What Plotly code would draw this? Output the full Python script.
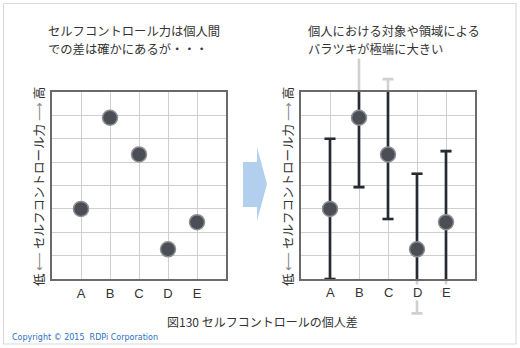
import plotly.graph_objects as go

categories = ["A", "B", "C", "D", "E"]
positions = [1, 2, 3, 4, 5]
left_values = [3.0, 6.9, 5.33, 1.27, 2.43]
right_values = [3.0, 6.9, 5.33, 1.27, 2.43]
right_upper = [6.0, 9.93, 8.55, 4.5, 5.47]
right_lower = [0.0, 3.93, 2.57, -1.47, -0.52]

title_left = ["セルフコントロール力は個人間", "での差は確かにあるが・・・"]
title_right = ["個人における対象や領域による", "バラツキが極端に大きい"]
ytitle = "低 <span style='color:#8a8a8a'>⟵</span> セルフコントロール力 <span style='color:#8a8a8a'>⟶</span> 高"
caption = "図130 セルフコントロールの個人差"
copyright_text = "Copyright © 2015  RDPi Corporation"

W, H = 520, 348
FONT = "Noto Sans CJK JP, sans-serif"
LATIN = "Liberation Sans, Arial, sans-serif"

def px_x(x):
    return x / W

def px_y(y):
    return 1 - y / H

# plot-area geometry (pixels)
PLOT_TOP, PLOT_BOTTOM = 92, 279
YMIN, YMAX = 0, 8
PPU = (PLOT_BOTTOM - PLOT_TOP) / (YMAX - YMIN)
EXT_TOP, EXT_BOTTOM = 12, 336  # extended area for the faint bar parts

err_plus = [u - v for u, v in zip(right_upper, right_values)]
err_minus = [v - l for v, l in zip(right_values, right_lower)]

fig = go.Figure()

marker_style = dict(size=15, color="#4b4e54", line=dict(color="#8d8f93", width=1.5))

# left plot points
fig.add_trace(go.Scatter(x=positions, y=left_values, mode="markers", marker=marker_style,
                         xaxis="x", yaxis="y", cliponaxis=False, showlegend=False))

# right plot: light gray full-range bars on an invisible, taller subplot (drawn first)
fig.add_trace(go.Scatter(x=positions, y=right_values, mode="markers",
                         marker=dict(size=1, color="rgba(0,0,0,0)"),
                         error_y=dict(type="data", array=err_plus, arrayminus=err_minus,
                                      color="#d0d0d0", thickness=2.6, width=5.5),
                         xaxis="x2", yaxis="y2", showlegend=False, hoverinfo="skip"))
# right plot: dark bars (clipped to the framed plot area)
fig.add_trace(go.Scatter(x=positions, y=right_values, mode="markers",
                         marker=dict(size=1, color="rgba(0,0,0,0)"),
                         error_y=dict(type="data", array=err_plus, arrayminus=err_minus,
                                      color="#262a33", thickness=2.6, width=5.5),
                         xaxis="x3", yaxis="y3", cliponaxis=True, showlegend=False))
# right plot points
fig.add_trace(go.Scatter(x=positions, y=right_values, mode="markers", marker=marker_style,
                         xaxis="x3", yaxis="y3", cliponaxis=False, showlegend=False))

ydom = [px_y(PLOT_BOTTOM), px_y(PLOT_TOP)]
ext_dom = [px_y(EXT_BOTTOM), px_y(EXT_TOP)]
ext_range = [YMIN - (EXT_BOTTOM - PLOT_BOTTOM) / PPU, YMAX + (PLOT_TOP - EXT_TOP) / PPU]
right_dom = [px_x(301), px_x(475)]

axis_common = dict(showline=True, mirror=True, linecolor="#6a6a6a", linewidth=1.8,
                   showgrid=True, gridcolor="#cfcfcf", gridwidth=1.4, zeroline=False,
                   ticks="", fixedrange=True)
hidden = dict(showline=False, showgrid=False, zeroline=False, showticklabels=False,
              ticks="", fixedrange=True)

fig.update_layout(
    width=W, height=H, margin=dict(l=0, r=0, t=0, b=0),
    paper_bgcolor="white", plot_bgcolor="rgba(0,0,0,0)",
    font=dict(family=FONT, color="#333333", size=12),
    xaxis=dict(domain=[px_x(52), px_x(226)], range=[0, 6], tickvals=positions,
               ticktext=categories, ticklabelstandoff=1,
               tickfont=dict(family=LATIN, size=13, color="#333"),
               **axis_common),
    yaxis=dict(domain=ydom, range=[YMIN, YMAX], dtick=1, showticklabels=False, **axis_common),
    xaxis2=dict(domain=right_dom, range=[0, 6], anchor="y2", **hidden),
    yaxis2=dict(domain=ext_dom, range=ext_range, anchor="x2", **hidden),
    xaxis3=dict(domain=right_dom, range=[0, 6], tickvals=positions,
                ticktext=categories, showticklabels=False, anchor="y3", **axis_common),
    yaxis3=dict(domain=ydom, range=[YMIN, YMAX], dtick=1, showticklabels=False, anchor="x3",
                **axis_common),
)

annotations = []
# right plot category labels with white background (they mask the faint bar parts)
for p, c in zip(positions, categories):
    annotations.append(dict(x=p, y=px_y(292), xref="x3", yref="paper", text=c, showarrow=False,
                            font=dict(family=LATIN, size=13, color="#333"),
                            bgcolor="white", borderpad=0, xanchor="center", yanchor="middle"))
for i, (tl, tr) in enumerate(zip(title_left, title_right)):
    yy = px_y(31 + 18.2 * i)
    annotations.append(dict(x=px_x(46), y=yy, xref="paper", yref="paper", text=tl,
                            showarrow=False, xanchor="left", yanchor="middle",
                            font=dict(size=12.3, color="#333")))
    annotations.append(dict(x=px_x(307), y=yy, xref="paper", yref="paper", text=tr,
                            showarrow=False, xanchor="left", yanchor="middle",
                            font=dict(size=12.3, color="#333"), bgcolor="white", borderpad=0))
annotations += [
    dict(x=px_x(38), y=px_y(187), xref="paper", yref="paper", text=ytitle, showarrow=False,
         textangle=-90, xanchor="center", yanchor="middle", font=dict(size=12.5, color="#333")),
    dict(x=px_x(287), y=px_y(187), xref="paper", yref="paper", text=ytitle, showarrow=False,
         textangle=-90, xanchor="center", yanchor="middle", font=dict(size=12.5, color="#333")),
    dict(x=px_x(262), y=px_y(321), xref="paper", yref="paper", text=caption, showarrow=False,
         xanchor="center", yanchor="middle", font=dict(size=12, color="#333")),
    dict(x=px_x(10), y=px_y(337), xref="paper", yref="paper", text=copyright_text, showarrow=False,
         xanchor="left", yanchor="middle",
         font=dict(family="DejaVu Sans, Verdana, sans-serif", size=8, color="#2a6fc0")),
]
fig.update_layout(annotations=annotations)

# decorative arrow and border
arrow_pts = [(243, 162), (257, 162), (257, 147), (267, 184), (257, 221), (257, 207), (243, 207)]
path = "M " + " L ".join(f"{px_x(x):.5f},{px_y(y):.5f}" for x, y in arrow_pts) + " Z"
fig.add_shape(type="path", path=path, xref="paper", yref="paper",
              fillcolor="#b2d0ee", line=dict(width=0), layer="below")
fig.add_shape(type="rect", xref="paper", yref="paper", x0=px_x(3.5), x1=px_x(516), y0=px_y(344),
              y1=px_y(3.5), line=dict(color="#dadada", width=1.2), fillcolor="rgba(0,0,0,0)")

fig.write_html("out.html")
